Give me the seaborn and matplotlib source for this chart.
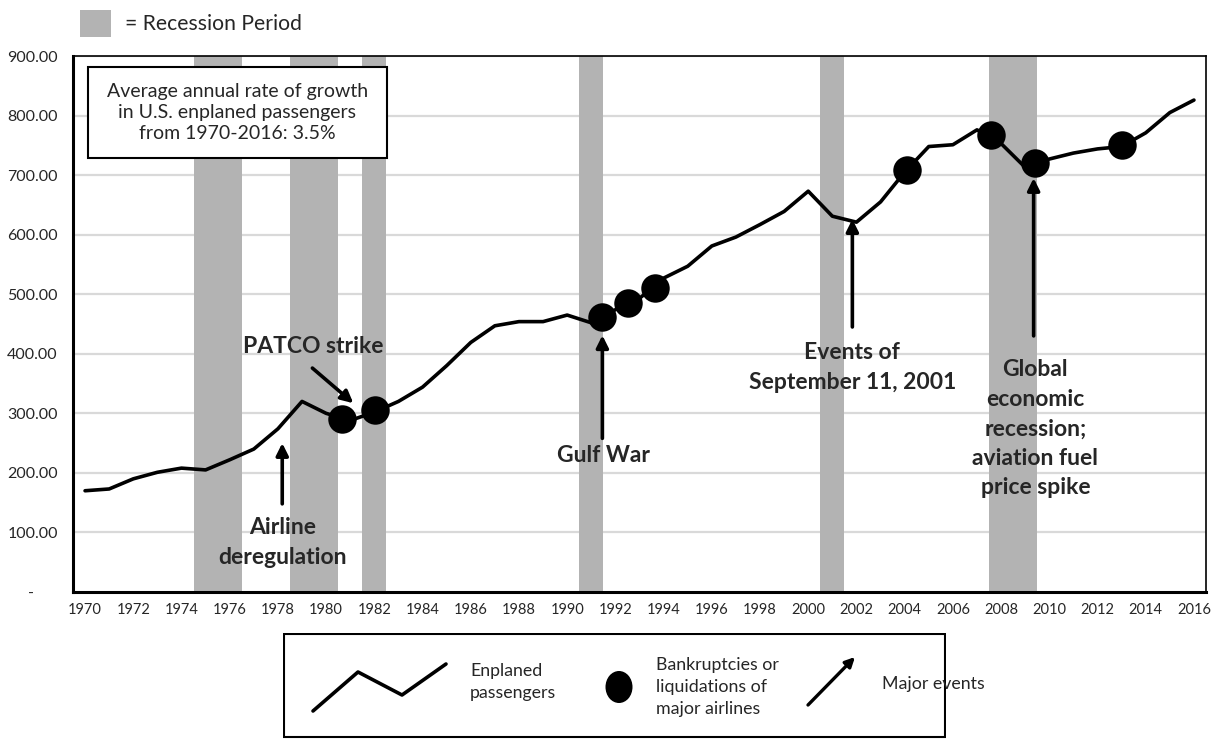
import numpy as np
import pandas as pd
import matplotlib
matplotlib.use("Agg")
import matplotlib.pyplot as plt
import matplotlib.transforms as mtransforms
from matplotlib.patches import Rectangle, Ellipse, FancyArrowPatch
from matplotlib.lines import Line2D
import seaborn as sns

# ---------------- data ----------------
years = list(range(1970, 2017))
passengers = [170, 173, 190, 201, 208, 205, 222, 240, 274, 320,
              300, 288, 302, 320, 344, 380, 419, 447, 454, 454,
              465, 452, 474, 493, 527, 547, 581, 596, 617, 639,
              673, 631, 621, 655, 705, 748, 751, 776, 753, 713,
              727, 737, 744, 748, 771, 805, 826]

bankrupt_x = [1980.65, 1982.03, 1991.46, 1992.54, 1993.66, 2004.1, 2007.6, 2009.4, 2013.0]
bankrupt_y = [290, 305, 461, 486, 510, 708, 768, 721, 751]

recession_years = [1975, 1976, 1979, 1980, 1982, 1991, 2001, 2008, 2009]

event_labels = ["Airline\nderegulation", "PATCO strike", "Gulf War",
                "Events of\nSeptember 11, 2001",
                "Global\neconomic\nrecession;\naviation fuel\nprice spike"]
event_tip_x = [1978.18, 1981.13, 1991.46, 2001.83, 2009.35]
event_tip_y = [250, 317, 431, 626, 695]
event_tail_x = [1978.18, 1979.43, 1991.46, 2001.83, 2009.35]
event_tail_y = [148, 376, 258, 445, 430]
event_text_x = [1978.2, 1979.47, 1991.5, 2001.83, 2009.42]
event_text_y = [83, 413, 230, 377, 274]

y_ticks = [0, 100, 200, 300, 400, 500, 600, 700, 800, 900]
x_tick_labels = list(range(1970, 2017, 2))

growth_text = "Average annual rate of growth\nin U.S. enplaned passengers\nfrom 1970-2016: 3.5%"

# ---------------- style ----------------
sns.set_style("white")
plt.rcParams['font.family'] = ['Lato', 'DejaVu Sans']

W, H = 1215, 739
fig = plt.figure(figsize=(W / 100, H / 100), dpi=100)
ax = fig.add_axes([73 / W, 1 - 592 / H, (1206 - 73) / W, (592 - 56) / H])

REC = "#b3b3b3"
# recession bars
ax.bar(recession_years, [900] * len(recession_years), width=1.0, color=REC,
       linewidth=0, zorder=1)

# gridlines
for v in y_ticks[1:]:
    ax.axhline(v, color="#d9d9d9", lw=1.6, zorder=0.5)

df = pd.DataFrame({"year": years, "passengers": passengers})
sns.lineplot(data=df, x="year", y="passengers", ax=ax, color="black",
             lw=2.6, zorder=3)
bk = pd.DataFrame({"x": bankrupt_x, "y": bankrupt_y})
sns.scatterplot(data=bk, x="x", y="y", ax=ax, color="black", s=420,
                edgecolor="black", linewidth=0, zorder=4)

# arrows and labels
for lab, tx, ty, hx, hy, lx, ly in zip(event_labels, event_tip_x, event_tip_y,
                                       event_tail_x, event_tail_y,
                                       event_text_x, event_text_y):
    ax.annotate("", xy=(tx, ty), xytext=(hx, hy),
                arrowprops=dict(arrowstyle="-|>", lw=2.6, color="black",
                                mutation_scale=18, shrinkA=0, shrinkB=0),
                zorder=5)
    ax.text(lx, ly, lab, ha="center", va="center", fontsize=16.5,
            fontweight="bold", linespacing=1.5, zorder=6)

ax.set_xlim(1969.5, 2016.5)
ax.set_ylim(0, 900)
ax.set_yticks(y_ticks)
ax.set_yticklabels(["-"] + [f"{v:.2f}" for v in y_ticks[1:]], fontsize=11.5)
ax.set_xticks(x_tick_labels)
ax.set_xticklabels([str(v) for v in x_tick_labels], fontsize=10.5)
ax.set_xticks(np.arange(1969.5, 2017, 1), minor=True)
ax.tick_params(axis="x", which="major", length=0, pad=8)
ax.tick_params(axis="x", which="minor", length=6, width=1.5, color="black", direction="out")
ax.tick_params(axis="y", which="major", length=5, width=1.5, color="black", direction="out", pad=6)
ax.set_xlabel("")
ax.set_ylabel("")
# shift "-" label left
lbl0 = ax.get_yticklabels()[0]
lbl0.set_transform(lbl0.get_transform() + mtransforms.ScaledTranslation(-17 / 72, 0, fig.dpi_scale_trans))

for s in ["left", "bottom"]:
    ax.spines[s].set_color("black")
    ax.spines[s].set_linewidth(2.2)
for s in ["top", "right"]:
    ax.spines[s].set_color("black")
    ax.spines[s].set_linewidth(1.2)

# text box with growth rate
bx0, bx1 = (88 - 73) / 1133, (387 - 73) / 1133
by0, by1 = (592 - 158) / 536, (592 - 67) / 536
ax.add_patch(Rectangle((bx0, by0), bx1 - bx0, by1 - by0, transform=ax.transAxes,
                       fc="white", ec="black", lw=1.5, zorder=7))
ax.text((bx0 + bx1) / 2, (by0 + by1) / 2, growth_text, transform=ax.transAxes,
        ha="center", va="center", fontsize=14, linespacing=1.32, zorder=8)

# top legend: recession period
fig.patches.append(Rectangle((80 / W, 1 - 37 / H), 31 / W, 27 / H, transform=fig.transFigure,
                             fc=REC, ec="none"))
fig.text(125 / W, 1 - 24 / H, "= Recession Period", fontsize=15.2, va="center", ha="left")

# bottom legend box (pixel-coordinate axes)
lax = fig.add_axes([283 / W, 0, (946 - 283) / W, (739 - 633) / H])
lax.set_xlim(283, 946)
lax.set_ylim(739, 633)
lax.axis("off")
lax.add_patch(Rectangle((284, 634), 661, 103, fc="white", ec="black", lw=1.5))
lax.add_line(Line2D([313, 358, 402, 446], [711, 672, 695, 664], color="black", lw=2.6))
lax.text(470, 682, "Enplaned\npassengers", fontsize=12.8, va="center", ha="left", linespacing=1.45)
lax.add_patch(Ellipse((619, 687), 27, 32, fc="black", ec="none"))
lax.text(656, 687, "Bankruptcies or\nliquidations of\nmajor airlines", fontsize=12.8,
         va="center", ha="left", linespacing=1.45)
lax.add_patch(FancyArrowPatch((808, 705), (855, 657), arrowstyle="-|>", mutation_scale=14,
                              lw=2.4, color="black", shrinkA=0, shrinkB=0))
lax.text(882, 684, "Major events", fontsize=12.8, va="center", ha="left")

fig.savefig("out.png", dpi=100)
